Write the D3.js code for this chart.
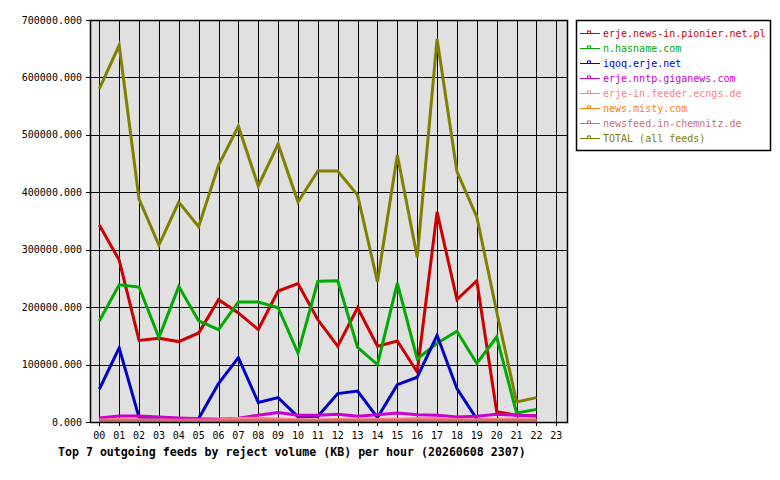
<!DOCTYPE html>
<html>
<head>
<meta charset="utf-8">
<script src="https://cdn.jsdelivr.net/npm/d3@7"></script>
<style>
  body { margin: 0; background: #fff; }
  svg { display: block; }
  text { font-family: "DejaVu Sans Mono", monospace; }
</style>
</head>
<body>
<div id="chart"></div>
<script>
// hours shown on the x axis
const hours = d3.range(24).map(h => (h < 10 ? "0" : "") + h)

const feeds = [
  "erje.news-in.pionier.net.pl",
  "n.hasname.com",
  "iqoq.erje.net",
  "erje.nntp.giganews.com",
  "erje-in.feeder.ecngs.de",
  "news.misty.com",
  "newsfeed.in-chemnitz.de",
  "TOTAL (all feeds)"
]
const colors = ["#cc0000", "#00aa00", "#0000cc", "#cc00cc", "#ff8080", "#ff8000", "#cc7070", "#808000"]

// KB per hour, hours 00..22
const pionier = [343000, 282000, 142000, 146000, 140000, 155000, 213000, 190000, 161000, 228000, 241000, 178000, 132000, 199000, 132000, 141000, 87000, 366000, 213000, 246000, 18000, 11700, 11000]
const hasname = [176000, 239000, 235000, 147000, 236000, 176000, 161000, 209000, 209000, 199000, 120000, 245000, 246000, 130000, 100000, 242000, 110000, 137000, 158000, 102000, 148000, 15700, 22000]
const iqoq = [57000, 129000, 8000, 4000, 3000, 6000, 67000, 112000, 34000, 42500, 9000, 10000, 49500, 54000, 7600, 65000, 78000, 151000, 58000, 5000, 2000, 2000, 2000]
const giganews = [7000, 10500, 10500, 8700, 7000, 5500, 5000, 6500, 11700, 16400, 11700, 11700, 13400, 10000, 12800, 15700, 12800, 11700, 8700, 10000, 13400, 11700, 10500]
const ecngs = [3500, 4500, 4000, 3500, 3000, 3500, 4000, 6000, 6500, 5000, 4000, 3500, 4500, 4000, 4500, 5000, 5500, 6000, 4500, 4000, 5000, 4500, 4000]
const misty = [1500, 1500, 1500, 1500, 1500, 1500, 1500, 1500, 1500, 1500, 1500, 1500, 1500, 1500, 1500, 1500, 1500, 1500, 1500, 1500, 1500, 1500, 1500]
const chemnitz = [2500, 2500, 2500, 2500, 2500, 2500, 2500, 2500, 2500, 2500, 2500, 2500, 2500, 2500, 2500, 2500, 2500, 2500, 2500, 2500, 2500, 2500, 2500]
const total = [580000, 656000, 388000, 308000, 383000, 340000, 447000, 515000, 411000, 484000, 383000, 437000, 437000, 395000, 244000, 465000, 287000, 667000, 436000, 357000, 192000, 35000, 42500]

const yTicks = [0, 100000, 200000, 300000, 400000, 500000, 600000, 700000]
const title = "Top 7 outgoing feeds by reject volume (KB) per hour (20260608 2307)"

const series = [pionier, hasname, iqoq, giganews, ecngs, misty, chemnitz, total]

const width = 780
const height = 480
const plot = { left: 90, right: 567, top: 20, bottom: 422 }

const svg = d3.select("#chart").append("svg")
  .attr("width", width)
  .attr("height", height)

const x = d3.scaleLinear().domain([0, 23]).range([99.3, 556.3])
const y = d3.scaleLinear().domain([0, 700000]).range([plot.bottom, plot.top])

// plot background
svg.append("rect")
  .attr("x", plot.left).attr("y", plot.top)
  .attr("width", plot.right - plot.left).attr("height", plot.bottom - plot.top)
  .attr("fill", "#e0e0e0")

const grid = svg.append("g").attr("stroke", "#000").attr("stroke-width", 1).attr("shape-rendering", "crispEdges")
grid.selectAll(".vg").data(hours).join("line")
  .attr("x1", (d, i) => Math.round(x(i)) + 0.5).attr("x2", (d, i) => Math.round(x(i)) + 0.5)
  .attr("y1", plot.top).attr("y2", plot.bottom + 4)
grid.selectAll(".hg").data(yTicks).join("line")
  .attr("x1", plot.left - 4).attr("x2", plot.right)
  .attr("y1", d => Math.round(y(d)) + 0.5).attr("y2", d => Math.round(y(d)) + 0.5)

// tick labels
svg.append("g").selectAll("text").data(yTicks).join("text")
  .attr("x", 82).attr("y", d => y(d) + 3.5)
  .attr("text-anchor", "end").attr("font-size", "10px")
  .text(d => d3.format(".3f")(d))

svg.append("g").selectAll("text").data(hours).join("text")
  .attr("x", (d, i) => x(i)).attr("y", 439)
  .attr("text-anchor", "middle").attr("font-size", "10px")
  .text(d => d)

// lines
const line = d3.line().x((d, i) => x(i)).y(d => y(d))
svg.append("g").selectAll("path").data(series).join("path")
  .attr("d", line)
  .attr("fill", "none")
  .attr("stroke", (d, i) => colors[i])
  .attr("stroke-width", 3)
  .attr("stroke-linejoin", "miter")

// frame
svg.append("rect")
  .attr("x", plot.left + 0.5).attr("y", plot.top + 0.5)
  .attr("width", plot.right - plot.left).attr("height", plot.bottom - plot.top)
  .attr("fill", "none").attr("stroke", "#000").attr("stroke-width", 1.5)

// legend
const lg = svg.append("g")
lg.append("rect")
  .attr("x", 576.5).attr("y", 20.5).attr("width", 194).attr("height", 130)
  .attr("fill", "#fff").attr("stroke", "#000").attr("stroke-width", 1.5)

const rows = lg.selectAll(".row").data(feeds).join("g")
  .attr("transform", (d, i) => `translate(0,${33.5 + i * 15})`)
rows.append("line")
  .attr("x1", 580).attr("x2", 600).attr("y1", 0).attr("y2", 0)
  .attr("stroke", (d, i) => colors[i]).attr("stroke-width", 1)
rows.append("rect")
  .attr("x", 587.5).attr("y", -2.5).attr("width", 3).attr("height", 2.5)
  .attr("fill", "none").attr("stroke", (d, i) => colors[i]).attr("stroke-width", 1)
rows.append("text")
  .attr("x", 603).attr("y", 3.5).attr("font-size", "10px")
  .attr("fill", (d, i) => colors[i])
  .text(d => d)

svg.append("text")
  .attr("x", 58).attr("y", 456)
  .attr("font-size", "11.6px").attr("font-weight", "bold")
  .text(title)
</script>
</body>
</html>
